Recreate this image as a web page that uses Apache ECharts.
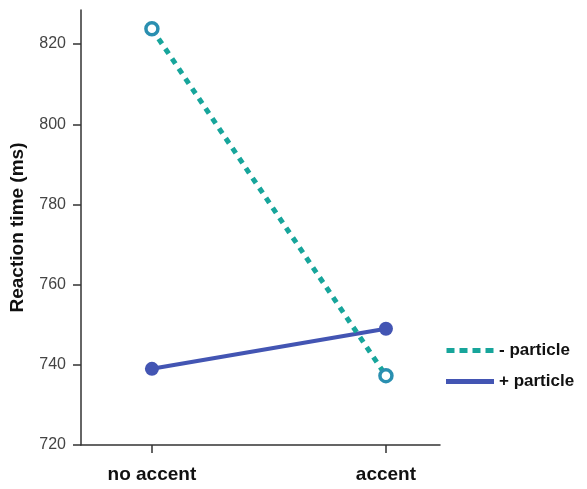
<!DOCTYPE html>
<html>
<head>
<meta charset="utf-8">
<script src="https://cdn.jsdelivr.net/npm/echarts@6/dist/echarts.min.js"></script>
<style>
  html, body { margin: 0; padding: 0; background: #fff; }
  #chart { width: 587px; height: 489px; }
</style>
</head>
<body>
<div id="chart"></div>
<script>
// Conditions on the x axis and mean reaction times per group
const categories = ['no accent', 'accent'];
const minusParticle = [823.8, 737.3];
const plusParticle = [739.0, 749.0];
const yTicks = [720, 740, 760, 780, 800, 820];
const seriesNames = ['- particle', '+ particle'];

const TEAL = '#17a59b';
const TEAL_MARK = '#2a8fb0';
const BLUE = '#4355b3';
const FONT = 'Liberation Sans, Arial, sans-serif';

const chart = echarts.init(document.getElementById('chart'));

const toPoints = vals => vals.map((v, i) => [i, v]);

chart.setOption({
  animation: false,
  backgroundColor: '#ffffff',
  grid: { left: 81, right: 147, top: 10, bottom: 44, containLabel: false, outerBoundsMode: 'none' },
  xAxis: {
    type: 'value',
    min: -0.303,
    max: 1.231,
    axisLine: { show: true, onZero: false, lineStyle: { color: '#333', width: 1.5 } },
    axisTick: { show: true, length: 8, lineStyle: { color: '#333', width: 1.5 }, customValues: [0, 1] },
    axisLabel: {
      customValues: [0, 1],
      formatter: v => categories[Math.round(v)],
      color: '#111', fontFamily: FONT,
      fontWeight: 'bold', fontSize: 19, margin: 20
    },
    splitLine: { show: false }
  },
  yAxis: {
    type: 'value',
    min: 720,
    max: 828.5,
    name: 'Reaction time (ms)',
    nameLocation: 'middle',
    nameGap: 54,
    nameTextStyle: { color: '#111', fontFamily: FONT, fontWeight: 'bold', fontSize: 19 },
    axisLine: { show: true, onZero: false, lineStyle: { color: '#333', width: 1.5 } },
    axisTick: { show: true, length: 8, lineStyle: { color: '#333', width: 1.5 }, customValues: yTicks },
    axisLabel: {
      customValues: yTicks,
      color: '#444', fontFamily: FONT, fontSize: 16, margin: 15
    },
    splitLine: { show: false }
  },
  legend: {
    orient: 'vertical',
    left: 441,
    top: 337,
    itemWidth: 48,
    itemHeight: 5,
    itemGap: 14,
    textStyle: { color: '#111', fontFamily: FONT, fontWeight: 'bold', fontSize: 17 },
    data: [
      {
        name: seriesNames[0],
        icon: 'path://M0,0h8v5h-8z M13,0h8v5h-8z M26,0h8v5h-8z M39,0h8v5h-8z',
        itemStyle: { color: TEAL, borderWidth: 0 }
      },
      {
        name: seriesNames[1],
        icon: 'rect',
        itemStyle: { color: BLUE, borderWidth: 0 }
      }
    ]
  },
  series: [
    {
      name: seriesNames[0],
      type: 'line',
      data: toPoints(minusParticle),
      symbol: 'circle',
      symbolSize: 12,
      itemStyle: { color: '#ffffff', borderColor: TEAL_MARK, borderWidth: 3.5 },
      lineStyle: { color: TEAL, width: 5, type: [6, 6] },
      z: 3
    },
    {
      name: seriesNames[1],
      type: 'line',
      data: toPoints(plusParticle),
      symbol: 'circle',
      symbolSize: 14,
      itemStyle: { color: BLUE, borderWidth: 0 },
      lineStyle: { color: BLUE, width: 4 },
      z: 2
    }
  ]
});
</script>
</body>
</html>
